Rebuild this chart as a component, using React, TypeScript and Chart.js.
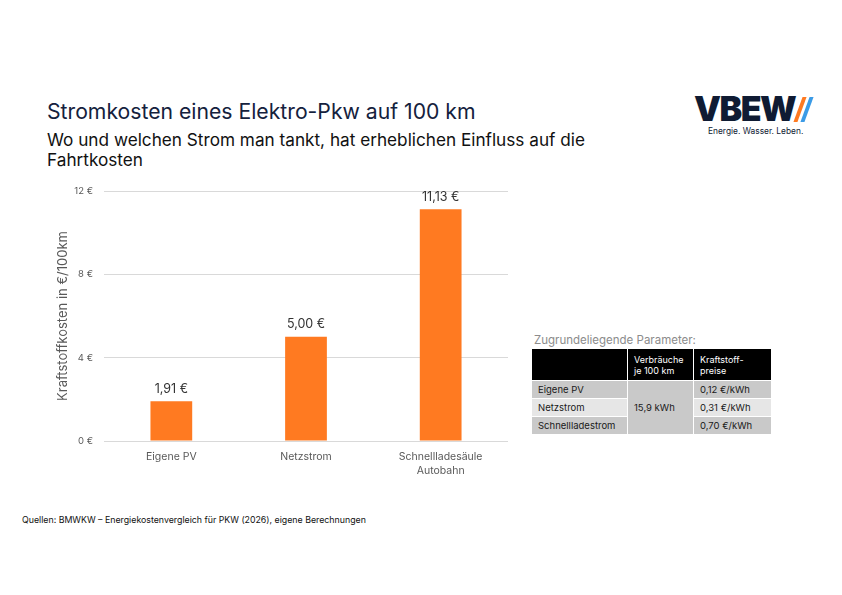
import React, { useEffect, useRef } from "react";
import { Chart, registerables } from "chart.js";

Chart.register(...registerables);

const categories: (string | string[])[] = ["Eigene PV", "Netzstrom", ["Schnellladesäule", "Autobahn"]];
const costs: number[] = [1.91, 5.0, 11.13];
const costLabels: string[] = ["1,91 €", "5,00 €", "11,13 €"];
const yTicks: number[] = [0, 4, 8, 12];

const paramRows: string[] = ["Eigene PV", "Netzstrom", "Schnellladestrom"];
const consumption = "15,9 kWh";
const prices: string[] = ["0,12 €/kWh", "0,31 €/kWh", "0,70 €/kWh"];

const FONT = "Inter, 'Noto Sans', sans-serif";
const ORANGE = "#FF7A21";

const valueLabelPlugin = {
  id: "valueLabels",
  afterDatasetsDraw(chart: any) {
    const ctx = chart.ctx;
    const meta = chart.getDatasetMeta(0);
    ctx.save();
    ctx.font = `12.5px ${FONT}`;
    ctx.fillStyle = "#333333";
    ctx.textAlign = "center";
    ctx.textBaseline = "bottom";
    meta.data.forEach((bar: any, i: number) => {
      ctx.fillText(costLabels[i], bar.x, bar.y - 6);
    });
    ctx.restore();
  },
};

function BarChart() {
  const ref = useRef<HTMLCanvasElement>(null);
  useEffect(() => {
    if (!ref.current) return;
    const chart = new Chart(ref.current, {
      type: "bar",
      data: {
        labels: categories as any,
        datasets: [
          {
            data: costs,
            backgroundColor: ORANGE,
            barPercentage: 0.62,
            categoryPercentage: 0.5,
          },
        ],
      },
      options: {
        animation: false,
        responsive: false,
        maintainAspectRatio: false,
        layout: { padding: { left: 15, top: 21, right: 12, bottom: 0 } },
        plugins: { legend: { display: false }, tooltip: { enabled: false } },
        scales: {
          x: {
            grid: { display: false },
            border: { display: false },
            ticks: { color: "#595959", font: { family: FONT, size: 10.5, lineHeight: 1.3 }, padding: 1, maxRotation: 0 },
            afterFit: (s: any) => {
              s.height = 49;
            },
          },
          y: {
            min: 0,
            max: 12,
            afterBuildTicks: (s: any) => {
              s.ticks = yTicks.map((v) => ({ value: v }));
            },
            grid: { color: "#d9d9d9", lineWidth: 1, drawTicks: false },
            border: { display: false },
            ticks: {
              color: "#595959",
              font: { family: FONT, size: 9.5 },
              padding: 11,
              callback: (v: any) => `${v} €`,
            },
            title: {
              display: true,
              text: "Kraftstoffkosten in €/100km",
              color: "#595959",
              font: { family: FONT, size: 13 },
              padding: { top: 0, bottom: 0 },
            },
            afterFit: (s: any) => {
              s.width = 49;
            },
          },
        },
      },
      plugins: [valueLabelPlugin],
    });
    return () => chart.destroy();
  }, []);
  return <canvas ref={ref} width={480} height={320} style={{ position: "absolute", left: 40, top: 170, width: 480, height: 320 }} />;
}

export default function App() {
  const cell: React.CSSProperties = { fontSize: 9.5, color: "#1a1a1a", padding: "0 6px", fontFamily: FONT, whiteSpace: "nowrap" };
  const dark = "#c9c9c9";
  const light = "#e6e6e6";
  return (
    <div style={{ position: "absolute", left: 0, top: 0, width: 842, height: 595, background: "#fff", fontFamily: FONT, overflow: "hidden" }}>
      <div style={{ position: "absolute", left: 47, top: 98, fontSize: 21.2, color: "#14213d", whiteSpace: "nowrap" }}>
        Stromkosten eines Elektro-Pkw auf 100 km
      </div>
      <div style={{ position: "absolute", left: 47, top: 130, fontSize: 17.2, lineHeight: "20px", color: "#111", width: 620 }}>
        Wo und welchen Strom man tankt, hat erheblichen Einfluss auf die
        <br />
        Fahrtkosten
      </div>

      {/* Logo */}
      <div style={{ position: "absolute", left: 694, top: 91, height: 36, display: "flex", alignItems: "center" }}>
        <span style={{ fontSize: 34, fontWeight: 900, color: "#0f1b33", letterSpacing: -1.5, lineHeight: "36px" }}>VBEW</span>
        <span style={{ display: "inline-block", width: 4, height: 25, background: "#FF7A21", transform: "skewX(-20deg)", marginLeft: 3 }} />
        <span style={{ display: "inline-block", width: 4, height: 25, background: "#3b9be6", transform: "skewX(-20deg)", marginLeft: 3 }} />
      </div>
      <div style={{ position: "absolute", left: 708, top: 126, fontSize: 8.4, color: "#0f1b33", whiteSpace: "nowrap" }}>
        Energie. Wasser. Leben.
      </div>

      <BarChart />

      {/* Parameter table */}
      <div style={{ position: "absolute", left: 534, top: 333, fontSize: 11.5, color: "#8c8c8c", whiteSpace: "nowrap" }}>
        Zugrundeliegende Parameter:
      </div>
      <table
        style={{
          position: "absolute",
          left: 531,
          top: 348,
          borderCollapse: "separate",
          borderSpacing: "1px 1px",
          fontFamily: FONT,
        }}
      >
        <tbody>
          <tr style={{ height: 31 }}>
            <td style={{ ...cell, background: "#000", width: 83 }} />
            <td style={{ ...cell, background: "#000", color: "#fff", width: 53, lineHeight: "11px", fontSize: 9 }}>
              Verbräuche
              <br />
              je 100 km
            </td>
            <td style={{ ...cell, background: "#000", color: "#fff", width: 65, lineHeight: "11px", fontSize: 9 }}>
              Kraftstoff-
              <br />
              preise
            </td>
          </tr>
          <tr style={{ height: 17 }}>
            <td style={{ ...cell, background: dark }}>{paramRows[0]}</td>
            <td rowSpan={3} style={{ ...cell, background: dark }}>{consumption}</td>
            <td style={{ ...cell, background: dark }}>{prices[0]}</td>
          </tr>
          <tr style={{ height: 17 }}>
            <td style={{ ...cell, background: light }}>{paramRows[1]}</td>
            <td style={{ ...cell, background: light }}>{prices[1]}</td>
          </tr>
          <tr style={{ height: 17 }}>
            <td style={{ ...cell, background: dark }}>{paramRows[2]}</td>
            <td style={{ ...cell, background: dark }}>{prices[2]}</td>
          </tr>
        </tbody>
      </table>

      <div style={{ position: "absolute", left: 22, top: 514, fontSize: 8.8, color: "#111", whiteSpace: "nowrap" }}>
        Quellen: BMWKW – Energiekostenvergleich für PKW (2026), eigene Berechnungen
      </div>
    </div>
  );
}
